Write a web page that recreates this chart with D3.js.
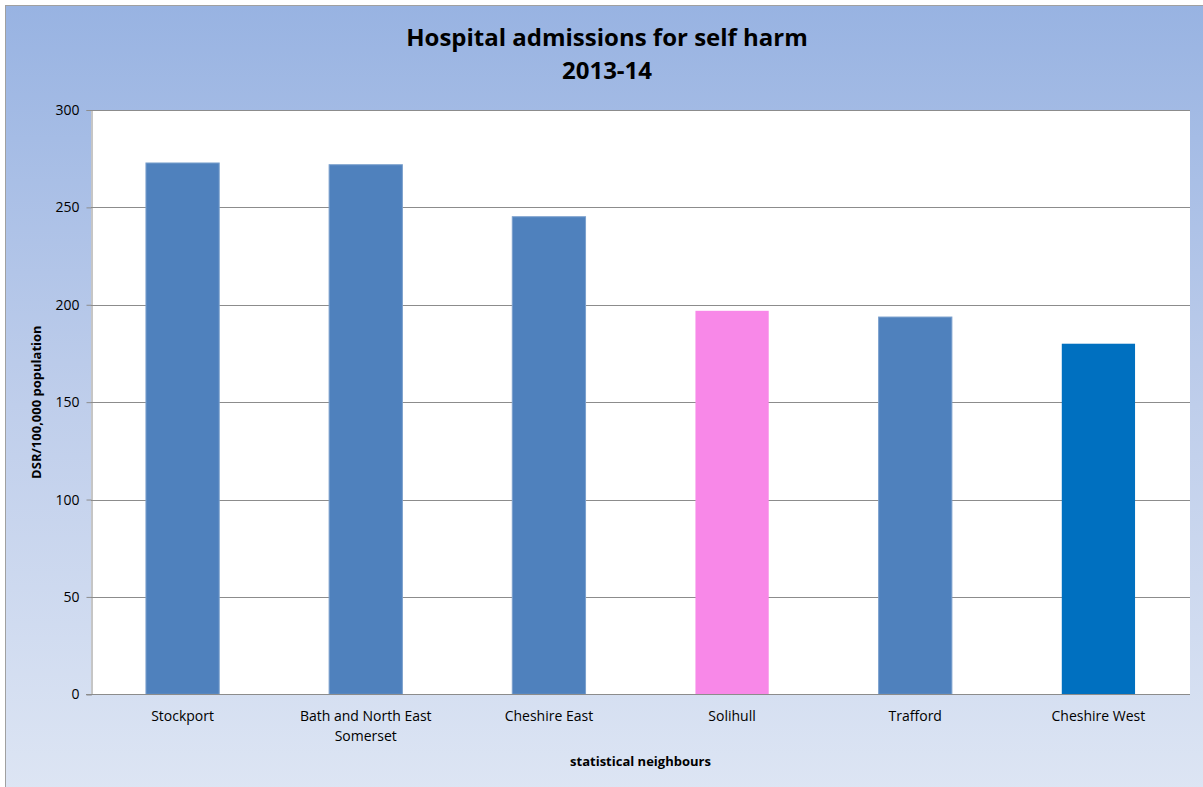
<!DOCTYPE html>
<html><head><meta charset="utf-8">
<script src="https://cdn.jsdelivr.net/npm/d3@7"></script>
<style>html,body{margin:0;padding:0;background:#fff;overflow:hidden}</style>
</head><body>
<svg id="c" width="1203" height="787"></svg>
<script>
const categories = ["Stockport", "Bath and North East Somerset", "Cheshire East", "Solihull", "Trafford", "Cheshire West"];
const values = [272.8, 271.9, 245.2, 196.9, 193.7, 180.0];
const barColors = ["#4F81BD", "#4F81BD", "#4F81BD", "#F888E8", "#4F81BD", "#0070C0"];
const yTicks = [0, 50, 100, 150, 200, 250, 300];
const titleLines = ["Hospital admissions for self harm", "2013-14"];
const yTitle = "DSR/100,000 population";
const xTitle = "statistical neighbours";

const svg = d3.select("#c");
const font = "'Open Sans', sans-serif";
const defs = svg.append("defs");
const g = defs.append("linearGradient").attr("id","bg").attr("x1",0).attr("y1",0).attr("x2",0).attr("y2",1);
g.append("stop").attr("offset","0%").attr("stop-color","#98B3E2");
g.append("stop").attr("offset","50%").attr("stop-color","#BFCEEB");
g.append("stop").attr("offset","100%").attr("stop-color","#DEE6F4");

svg.append("rect").attr("x",5.5).attr("y",5.5).attr("width",1210).attr("height",800)
  .attr("fill","url(#bg)").attr("stroke","#A0A0A0").attr("stroke-width",1);

const m = {left:91, right:1190, top:110, bottom:694.3};
const x = d3.scaleBand().domain(categories).range([m.left, m.right]).paddingInner(0.6).paddingOuter(0.3);
const y = d3.scaleLinear().domain([0,300]).range([m.bottom, m.top]);

svg.append("rect").attr("x",m.left).attr("y",m.top).attr("width",m.right-m.left).attr("height",m.bottom-m.top).attr("fill","#fff");

// gridlines
svg.append("g").selectAll("line").data(yTicks.filter(d=>d>0)).join("line")
  .attr("x1",m.left).attr("x2",m.right).attr("y1",d=>Math.round(y(d))+0.5).attr("y2",d=>Math.round(y(d))+0.5)
  .attr("stroke","#8C8C8C").attr("stroke-width",1);

// bars
svg.append("g").selectAll("rect").data(values).join("rect")
  .attr("x",(d,i)=>x(categories[i])).attr("width",x.bandwidth())
  .attr("y",d=>y(d)).attr("height",d=>y(0)-y(d))
  .attr("fill",(d,i)=>barColors[i])
  .attr("stroke",(d,i)=>barColors[i]==="#4F81BD"?"#7BA0CD":"none").attr("stroke-width",1);

// y axis
const ya = svg.append("g").attr("transform",`translate(${m.left+0.5},0)`)
  .call(d3.axisLeft(y).tickValues(yTicks).tickSize(5).tickPadding(7));
ya.select(".domain").attr("stroke","#8C8C8C");
ya.selectAll(".tick line").attr("stroke","#8C8C8C");
ya.selectAll("text").attr("font-family",font).attr("font-size",14).attr("fill","#000");

// x axis
const xa = svg.append("g").attr("transform",`translate(0,${Math.round(m.bottom)+0.5})`)
  .call(d3.axisBottom(x).tickSize(0).tickPadding(0));
xa.select(".domain").attr("stroke","#8C8C8C").attr("d",`M${m.left-5},0H${m.right}`);
xa.selectAll(".tick text").remove();
const lines = {"Bath and North East Somerset":["Bath and North East","Somerset"]};
categories.forEach(c=>{
  const ls = lines[c] || [c];
  const t = svg.append("text").attr("x",x(c)+x.bandwidth()/2).attr("y",721)
    .attr("text-anchor","middle").attr("font-family",font).attr("font-size",14).attr("fill","#000");
  ls.forEach((l,i)=>t.append("tspan").attr("x",x(c)+x.bandwidth()/2).attr("dy",i?20:0).text(l));
});

// titles
titleLines.forEach((l,i)=>svg.append("text").attr("x",607).attr("y",46+i*33).attr("text-anchor","middle")
  .attr("font-family",font).attr("font-weight","bold").attr("font-size",24).attr("fill","#000").text(l));
svg.append("text").attr("transform",`translate(41,${(m.top+m.bottom)/2}) rotate(-90)`).attr("text-anchor","middle")
  .attr("font-family",font).attr("font-weight","bold").attr("font-size",13).attr("fill","#000").text(yTitle);
svg.append("text").attr("x",(m.left+m.right)/2).attr("y",766).attr("text-anchor","middle")
  .attr("font-family",font).attr("font-weight","bold").attr("font-size",13).attr("fill","#000").text(xTitle);
</script>
</body></html>
